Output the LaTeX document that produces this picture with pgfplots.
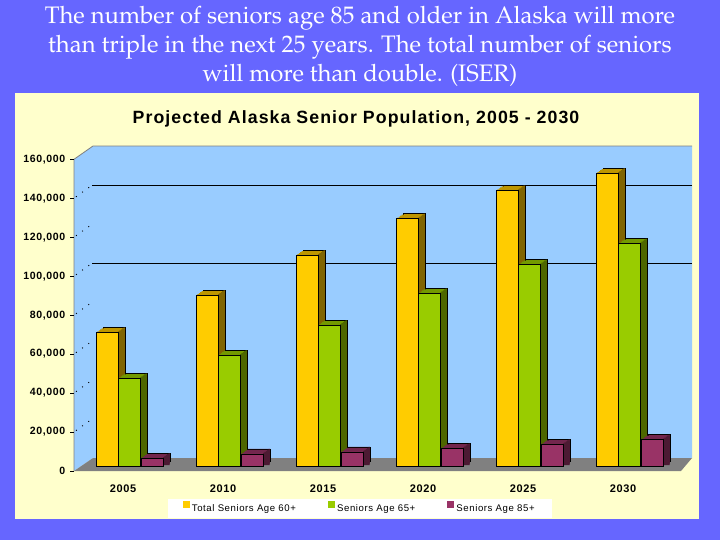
\documentclass[border=0pt]{standalone}
\usepackage[T1]{fontenc}
\usepackage{fontspec}
\setmainfont{Liberation Sans}
\newfontfamily\chartfont[LetterSpace=6]{Liberation Sans}
\newcommand\titlefont{\fontencoding{T1}\fontfamily{ppl}\selectfont}
\usepackage{pgfplots}
\usepackage{pgfplotstable}
\pgfplotsset{compat=1.18}

\definecolor{bgblue}{HTML}{6666FF}
\definecolor{panel}{HTML}{FFFFCC}
\definecolor{wall}{HTML}{99CCFF}
\definecolor{floorgray}{HTML}{808080}
\definecolor{yfront}{HTML}{FFCC00}
\definecolor{ytop}{HTML}{BE9600}
\definecolor{yside}{HTML}{806400}
\definecolor{gfront}{HTML}{99CC00}
\definecolor{gtop}{HTML}{739900}
\definecolor{gside}{HTML}{4D6600}
\definecolor{pfront}{HTML}{993366}
\definecolor{ptop}{HTML}{73264D}
\definecolor{pside}{HTML}{4D1A33}

\pgfplotstableread{
idx total s65 s85
0 68600 45000 4100
1 87700 56900 6200
2 108200 72300 7300
3 127000 88600 9100
4 141500 103400 11100
5 150300 114200 13500
}\datatable

% #1 column, #2 shift (px), #3 front, #4 top, #5 side, #6 legend text
\newcommand{\barseries}[6]{%
  % back outline of the prism (top face back edge, side face back edge)
  \addplot[ybar, forget plot, bar width=16.5pt, bar shift={(#2+7)*0.75pt}, yshift=7.5pt, fill=#4, draw=black, line width=0.4pt] table[x=idx, y=#1] {\datatable};
  \pgfplotsinvokeforeach{1,...,4}{%
    \addplot[ybar, forget plot, bar width=16.5pt, bar shift={(#2+1.4*##1)*0.75pt}, yshift={(5+##1)*0.75pt}, fill=#4, draw=none] table[x=idx, y=#1] {\datatable};
  }%
  \pgfplotsinvokeforeach{1,...,5}{%
    \addplot[ybar, forget plot, bar width={(8.1-1.4*##1)*0.75pt}, bar shift={(#2+11+(1.4*(##1-1)+6.7)/2)*0.75pt}, yshift={(5+##1)*0.75pt}, fill=#5, draw=none] table[x=idx, y=#1] {\datatable};
  }%
  \addplot[ybar, bar width=16.5pt, bar shift={#2*0.75pt}, yshift=3.75pt, fill=#3, draw=black, line width=0.4pt,
    legend image code/.code={\fill[#3] (0pt,-2.25pt) rectangle (4.5pt,2.25pt);}] table[x=idx, y=#1] {\datatable};
  \addlegendentry{#6}
}

\begin{document}
\begin{tikzpicture}
\begin{scope}[x=0.75pt, y=-0.75pt]
  \useasboundingbox (0,0) rectangle (720,540);
  \fill[bgblue] (0,0) rectangle (720,540);
  \fill[panel] (15,93) rectangle (699,519);
  % walls
  \fill[wall] (74,471) -- (74,159.3) -- (93,146) -- (692,146) -- (692,458) -- (93,458) -- cycle;
  \draw[floorgray, line width=0.6pt] (74,471) -- (74,159.3) -- (93,146) -- (692,146);
  % floor
  \fill[floorgray] (74,471) -- (681,471) -- (692,458) -- (93,458) -- cycle;
  % gridlines on back wall
  \draw[black, line width=0.6pt] (92,185.3) -- (692,185.3);
  \draw[black, line width=0.6pt] (92,263.2) -- (692,263.2);
  % dotted lines on side wall
  \foreach \v in {20,40,...,140} {
    \draw[black, line width=0.7pt, dash pattern=on 0.7pt off 5pt] (76,{471-1.948*\v-1.5}) -- (92,{471-1.948*\v-13});
  }
  % titles
  \node[text=white, align=center, font=\titlefont\fontsize{17.9}{21.75}\selectfont] at (360,46)
    {The number of seniors age 85 and older in Alaska will more\\than triple in the next 25 years. The total number of seniors\\will more than double. (ISER)};
  \node[font=\chartfont\bfseries\fontsize{13.3}{15}\selectfont] at (356,118.5)
    {Projected Alaska Senior Population, 2005 - 2030};
\end{scope}

\begin{axis}[
  at={(55.5pt,-353.25pt)}, anchor=south west,
  scale only axis, width=454.5pt, height=233.8pt,
  xmin=-0.49, xmax=5.57, ymin=0, ymax=160000,
  axis line style={draw=none},
  clip=false,
  xtick={0,...,5},
  xticklabels={2005,2010,2015,2020,2025,2030},
  ytick={0,20000,...,160000},
  scaled y ticks=false,
  tick pos=left,
  xtick style={draw=none},
  ytick style={draw=black, line width=0.5pt},
  tick align=outside,
  major tick length=3pt,
  /pgf/number format/assume math mode=true,
  yticklabel style={font=\chartfont\bfseries\fontsize{7.9}{9}\selectfont,
    /pgf/number format/fixed, /pgf/number format/precision=0, /pgf/number format/1000 sep={,}},
  xticklabel style={font=\chartfont\bfseries\fontsize{8.25}{10}\selectfont, yshift=-4pt},
  legend style={at={(0.472,-0.1203)}, anchor=center, legend columns=3, draw=none, fill=white,
    font=\chartfont\fontsize{7.2}{8.5}\selectfont, inner xsep=11pt, inner ysep=1.5pt,
    /tikz/every even column/.append style={column sep=22pt}},
  legend cell align=left,
]
\barseries{total}{-16}{yfront}{ytop}{yside}{Total Seniors Age 60+}
\barseries{s65}{6}{gfront}{gtop}{gside}{Seniors Age 65+}
\barseries{s85}{29}{pfront}{ptop}{pside}{Seniors Age 85+}
\end{axis}
\end{tikzpicture}
\end{document}
